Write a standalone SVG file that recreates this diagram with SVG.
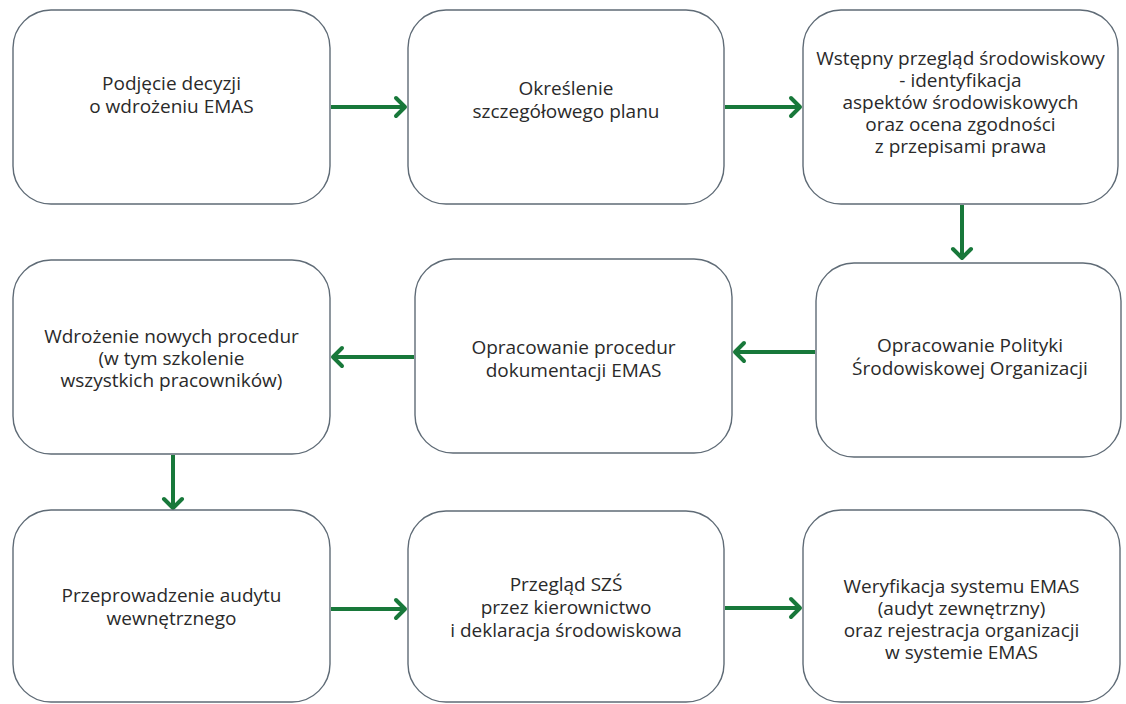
<svg xmlns="http://www.w3.org/2000/svg" width="1126" height="704" viewBox="0 0 1126 704">
<style>
.box{fill:#ffffff;stroke:#5f6b76;stroke-width:1.4}
.t{font-family:"Open Sans","Noto Sans","Liberation Sans",sans-serif;font-size:19px;fill:#2a2a2a;text-anchor:middle}
.c{stroke:#18783a;stroke-width:4;fill:none}
</style>
<defs>
<marker id="ah" markerUnits="userSpaceOnUse" markerWidth="24" markerHeight="24" viewBox="0 0 24 24" refX="14" refY="12" orient="auto">
<path d="M5,3 L14,12 L5,21" fill="none" stroke="#18783a" stroke-width="4" stroke-linecap="round" stroke-linejoin="round"/>
</marker>
</defs>
<rect width="1126" height="704" fill="#ffffff"/>
<g id="connectors">
<line class="c" x1="331" y1="107" x2="405" y2="107" marker-end="url(#ah)"/>
<line class="c" x1="725" y1="107" x2="800" y2="107" marker-end="url(#ah)"/>
<line class="c" x1="962" y1="205" x2="962" y2="258" marker-end="url(#ah)"/>
<line class="c" x1="815" y1="352" x2="735" y2="352" marker-end="url(#ah)"/>
<line class="c" x1="414" y1="357" x2="333" y2="357" marker-end="url(#ah)"/>
<line class="c" x1="173" y1="455" x2="173" y2="508" marker-end="url(#ah)"/>
<line class="c" x1="331" y1="609" x2="405" y2="609" marker-end="url(#ah)"/>
<line class="c" x1="725" y1="608" x2="800" y2="608" marker-end="url(#ah)"/>
</g>
<g id="n1"><rect class="box" x="13" y="10" width="317" height="194" rx="38"/>
<text class="t" x="171.5" y="90">Podjęcie decyzji<tspan x="171.5" dy="23">o wdrożeniu EMAS</tspan></text></g>
<g id="n2"><rect class="box" x="408" y="10" width="316" height="194" rx="38"/>
<text class="t" x="566" y="95">Określenie<tspan x="566" dy="23">szczegółowego planu</tspan></text></g>
<g id="n3"><rect class="box" x="803" y="10" width="315" height="194" rx="38"/>
<text class="t" x="960.5" y="65">Wstępny przegląd środowiskowy<tspan x="960.5" dy="22">- identyfikacja</tspan><tspan x="960.5" dy="22">aspektów środowiskowych</tspan><tspan x="960.5" dy="22">oraz ocena zgodności</tspan><tspan x="960.5" dy="22">z przepisami prawa</tspan></text></g>
<g id="n4"><rect class="box" x="13" y="260" width="317" height="194" rx="38"/>
<text class="t" x="171.5" y="343">Wdrożenie nowych procedur<tspan x="171.5" dy="22">(w tym szkolenie</tspan><tspan x="171.5" dy="22">wszystkich pracowników)</tspan></text></g>
<g id="n5"><rect class="box" x="415" y="259" width="317" height="194" rx="38"/>
<text class="t" x="573.5" y="354">Opracowanie procedur<tspan x="573.5" dy="23">dokumentacji EMAS</tspan></text></g>
<g id="n6"><rect class="box" x="816" y="263" width="305" height="194" rx="38"/>
<text class="t" x="970" y="352">Opracowanie Polityki<tspan x="970" dy="23">Środowiskowej Organizacji</tspan></text></g>
<g id="n7"><rect class="box" x="13" y="510" width="317" height="192" rx="38"/>
<text class="t" x="171.5" y="602">Przeprowadzenie audytu<tspan x="171.5" dy="23">wewnętrznego</tspan></text></g>
<g id="n8"><rect class="box" x="408" y="511" width="316" height="191" rx="38"/>
<text class="t" x="566" y="591">Przegląd  SZŚ<tspan x="566" dy="23">przez kierownictwo</tspan><tspan x="566" dy="23">i deklaracja środowiskowa</tspan></text></g>
<g id="n9"><rect class="box" x="803" y="510" width="317" height="192" rx="38"/>
<text class="t" x="961.5" y="593">Weryfikacja systemu EMAS<tspan x="961.5" dy="22">(audyt zewnętrzny)</tspan><tspan x="961.5" dy="22">oraz rejestracja organizacji</tspan><tspan x="961.5" dy="22">w systemie EMAS</tspan></text></g>
</svg>
